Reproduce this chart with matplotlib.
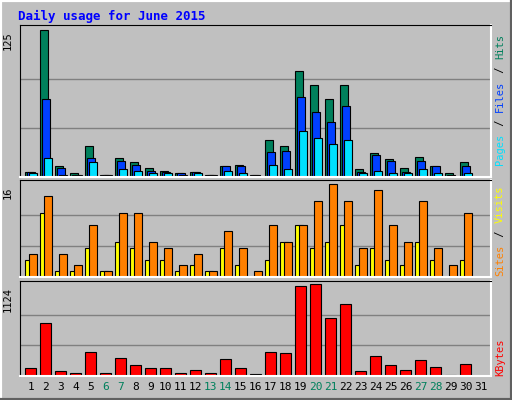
import numpy as np
import matplotlib.pyplot as plt
from matplotlib.lines import Line2D

days = list(range(1, 32))
weekend = [6, 7, 13, 14, 20, 21, 27, 28]

hits = [4, 125, 9, 3, 26, 2, 16, 13, 8, 5, 3, 4, 2, 9, 10, 2, 31, 26, 90, 78, 66, 78, 7, 20, 15, 8, 17, 9, 3, 13, 0]
files = [4, 66, 8, 2, 16, 2, 14, 10, 5, 4, 3, 4, 2, 9, 9, 2, 21, 22, 68, 55, 47, 60, 4, 19, 14, 4, 14, 9, 2, 9, 0]
pages = [3, 16, 2, 2, 13, 2, 7, 5, 3, 3, 2, 3, 2, 5, 3, 0, 10, 7, 39, 33, 28, 31, 3, 5, 3, 3, 7, 3, 0, 3, 0]
visits = [3, 11, 1, 1, 5, 1, 6, 5, 3, 3, 1, 2, 1, 5, 2, 0, 3, 6, 9, 5, 6, 9, 2, 5, 3, 2, 6, 3, 0, 3, 0]
sites = [4, 14, 4, 2, 9, 1, 11, 11, 6, 5, 2, 4, 1, 8, 5, 1, 9, 6, 9, 13, 16, 13, 5, 15, 9, 6, 13, 5, 2, 11, 0]
kbytes = [99, 642, 62, 37, 296, 37, 222, 136, 99, 99, 37, 74, 37, 210, 99, 25, 296, 284, 1099, 1124, 704, 877,
          62, 247, 136, 74, 198, 111, 12, 148, 0]

BG = '#c0c0c0'
x = np.array(days, dtype=float)

fig = plt.figure(figsize=(5.12, 4.0), dpi=100, facecolor=BG)
mono = 'DejaVu Sans Mono'

fig.text(18 / 512, 1 - 16 / 400, 'Daily usage for June 2015', color='#0000ff', fontsize=9,
         fontweight='bold', family=mono, va='center')

# outer bevel
fig.add_artist(Line2D([0, 0, 1], [0, 1, 1], transform=fig.transFigure, color='white', lw=3))
fig.add_artist(Line2D([0, 1, 1], [0, 0, 1], transform=fig.transFigure, color='#606060', lw=3))


def panel(bottom_px, top_px, ymax, vmax):
    ax = fig.add_axes([20 / 512, 1 - bottom_px / 400, 471 / 512, (bottom_px - top_px) / 400])
    ax.set_facecolor(BG)
    ax.set_xlim(0.27, 31.67)
    ax.set_ylim(0, ymax)
    ax.set_xticks([])
    ax.set_yticks([])
    for g in (vmax / 3, 2 * vmax / 3):
        ax.axhline(g, color='#808080', lw=1, zorder=0)
    for s in ('top', 'left'):
        ax.spines[s].set_color('black')
    for s in ('bottom', 'right'):
        ax.spines[s].set_color('white')
        ax.spines[s].set_linewidth(1.5)
    fig.text(8 / 512, 1 - (top_px + 6) / 400, str(vmax), rotation=90, ha='center', va='top',
             fontsize=7.5, family=mono)
    return ax


w = 8 / 15
off = 2 / 15
kw = dict(edgecolor='black', linewidth=0.8, align='edge')

ax1 = panel(177, 25, 129, 125)
ax1.bar(x - 6 / 15, hits, w, color='#00805c', **kw)
ax1.bar(x - 6 / 15 + off, files, w, color='#0040ff', **kw)
ax1.bar(x - 6 / 15 + 2 * off, pages, w, color='#00e0ff', **kw)

ax2 = panel(277, 180, 16.7, 16)
ax2.bar(x - 6 / 15, visits, w, color='#ffff00', **kw)
ax2.bar(x - 6 / 15 + 2 * off, sites, w, color='#ff8000', **kw)

ax3 = panel(376, 281, 1161, 1124)
ax3.bar(x, kbytes, 11 / 15, color='#ff0000', edgecolor='black', linewidth=0.8)

for d in days:
    c = '#00805c' if d in weekend else 'black'
    ax3.text(d, -0.12, str(d), transform=ax3.get_xaxis_transform(), ha='center', va='center',
             fontsize=8, family=mono, color=c)


def side_label(parts, y_bottom_px):
    # rotated text read bottom-to-top, stacked parts
    y = y_bottom_px
    for txt, col in parts:
        fig.text(500 / 512, 1 - y / 400, txt, rotation=90, ha='center', va='bottom',
                 fontsize=7.5, family=mono, color=col)
        y -= len(txt) * 6.6


side_label([('Pages', '#00e0ff'), (' / ', 'black'), ('Files', '#0040ff'), (' / ', 'black'),
            ('Hits', '#00805c')], 165)
side_label([('Sites', '#ff8000'), (' / ', 'black'), ('Visits', '#ffff00')], 276)
side_label([('KBytes', '#ff0000')], 376)

plt.savefig('out.png', dpi=100, facecolor=BG)
